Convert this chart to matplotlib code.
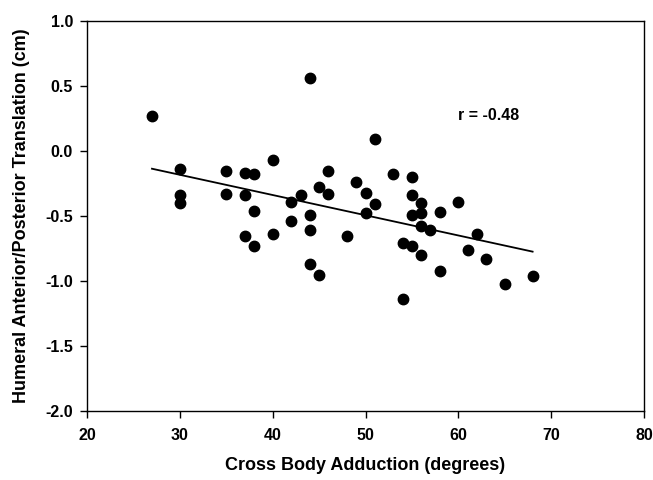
import matplotlib
matplotlib.use("Agg")
import matplotlib.pyplot as plt
import numpy as np

plt.rcParams['font.family'] = ['Liberation Sans', 'DejaVu Sans']

x = [27, 30, 30, 30, 35, 35, 37, 37, 37, 38, 38, 38, 40, 40, 42, 42, 43,
     44, 44, 44, 44, 45, 45, 46, 46, 48, 49, 50, 50, 51, 51, 53, 54, 54,
     55, 55, 55, 55, 56, 56, 56, 56, 57, 58, 58, 60, 61, 62, 63, 65, 68]
y = [0.27, -0.14, -0.34, -0.40, -0.15, -0.33, -0.17, -0.34, -0.65, -0.18, -0.46, -0.73,
     -0.07, -0.64, -0.39, -0.54, -0.34, 0.56, -0.49, -0.61, -0.87, -0.28, -0.95,
     -0.15, -0.33, -0.65, -0.24, -0.32, -0.48, 0.09, -0.41, -0.18, -0.71, -1.14,
     -0.20, -0.34, -0.49, -0.73, -0.40, -0.48, -0.58, -0.80, -0.61, -0.47, -0.92,
     -0.39, -0.76, -0.64, -0.83, -1.02, -0.96]
r_label = "r = -0.48"

fig = plt.figure(figsize=(6.53, 4.8), dpi=100)
ax = fig.add_axes([87/653, 69/480, 557/653, 390/480])

xa = np.array(x, float)
ya = np.array(y, float)
m, b = np.polyfit(xa, ya, 1)
xl = np.array([xa.min(), xa.max()])
ax.plot(xl, m * xl + b, color='black', lw=1.3, zorder=2)
ax.plot(xa, ya, 'o', color='black', ms=7.5, zorder=3)

ax.text(60, 0.27, r_label, fontsize=11.5, fontweight='bold', va='center', ha='left')

ax.set_xlim(20, 80)
ax.set_ylim(-2.0, 1.0)
ax.set_xticks(np.arange(20, 81, 10))
ax.set_yticks(np.arange(-2.0, 1.01, 0.5))
ax.set_yticklabels([f"{v:.1f}" for v in np.arange(-2.0, 1.01, 0.5)])
ax.tick_params(direction='out', length=5, width=1, labelsize=11.5, top=False, right=False)
ax.tick_params(axis='x', pad=7)
ax.tick_params(axis='y', pad=5)
for lab in ax.get_xticklabels() + ax.get_yticklabels():
    lab.set_fontweight('bold')
for s in ax.spines.values():
    s.set_linewidth(1)

ax.set_xlabel("Cross Body Adduction (degrees)", fontsize=13, fontweight='bold', labelpad=10)
ax.set_ylabel("Humeral Anterior/Posterior Translation (cm)", fontsize=13, fontweight='bold', labelpad=11)

fig.savefig("out.png", dpi=100)
